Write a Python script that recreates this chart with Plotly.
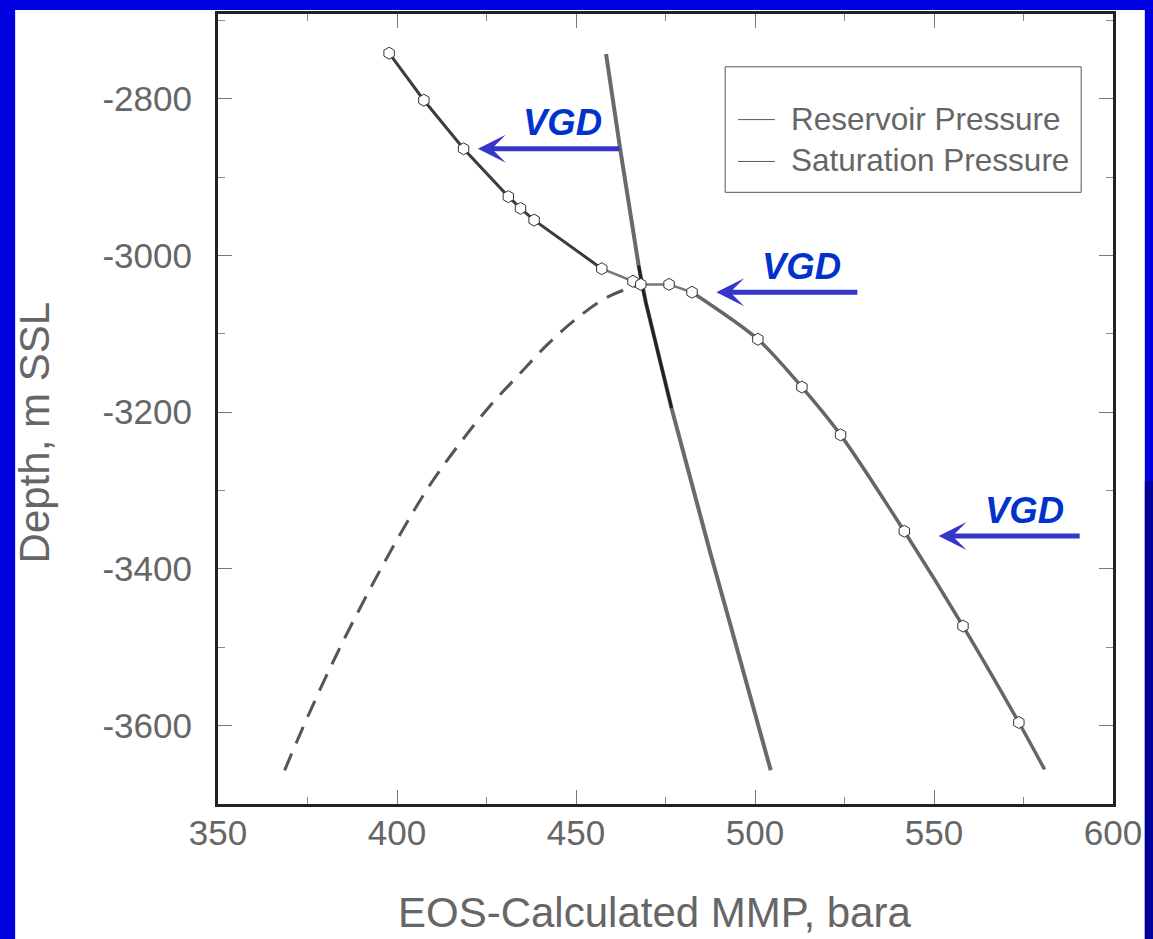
import plotly.graph_objects as go

# ---------------- data ----------------
# EOS-calculated MMP profile (line with hexagon markers)
mmp_x = [397.8, 407.5, 418.6, 431.1, 434.5, 438.3, 457.2, 465.9, 468.1, 476.0,
         482.4, 500.8, 513.1, 523.9, 541.7, 558.1, 573.7, 580.9]
mmp_depth = [-2742, -2802, -2864, -2925, -2940, -2955, -3017, -3033, -3037, -3037,
             -3047, -3107, -3168, -3229, -3352, -3473, -3596, -3656]
n_markers = 17  # last point is the line end without marker

# Reservoir pressure (steep line)
res_x = [458.4, 462.3, 467.5, 468.4, 469.5, 476.7, 482.3, 487.6, 493.1, 498.7, 504.4]
res_depth = [-2743, -2863, -3013, -3037, -3060, -3195, -3291, -3381, -3471, -3564, -3657]

# Saturation pressure (dashed)
sat_x = [368.6, 375.6, 383.9, 392.2, 400.6, 408.9, 417.2, 425.6, 433.9, 442.2,
         450.6, 458.9, 467.2]
sat_depth = [-3657, -3583, -3502, -3428, -3358, -3295, -3242, -3194, -3153, -3113,
             -3079, -3053, -3038]

# VGD arrows
vgd_tip_x = [422.6, 489.2, 551.3]
vgd_tail_x = [462.6, 529.0, 591.1]
vgd_depth = [-2864, -3047, -3358]
vgd_label_x = [446.2, 513.0, 575.2]
vgd_label_y = [-2830, -3014, -3326]

x_ticks = [350, 400, 450, 500, 550, 600]
y_ticks = [-2800, -3000, -3200, -3400, -3600]
y_ticklabels = ["-2800", "-3000", "-3200", "-3400", "-3600"]

legend_names = ["Reservoir Pressure", "Saturation Pressure"]

# ---------------- figure ----------------
W, H = 1153, 939
ML, MR, MT, MB = 218, 35, 11, 135
PW, PH = W - ML - MR, H - MT - MB


def px(xp):
    return (xp - ML) / PW


def py(yp):
    return 1 - (yp - MT) / PH


FONT = "Arial, Liberation Sans, Helvetica, sans-serif"
GRAY = "#666666"

fig = go.Figure()

# dashed saturation curve
fig.add_trace(go.Scatter(x=sat_x, y=sat_depth, mode="lines",
                         line=dict(color="#555555", width=3, dash="18px,11px",
                                   shape="spline", smoothing=1),
                         showlegend=False, hoverinfo="skip"))

# reservoir pressure line
fig.add_trace(go.Scatter(x=res_x, y=res_depth, mode="lines",
                         line=dict(color="#6a6a6a", width=4),
                         showlegend=False, hoverinfo="skip"))
fig.add_trace(go.Scatter(x=res_x[2:6], y=res_depth[2:6], mode="lines",
                         line=dict(color="#222222", width=3),
                         showlegend=False, hoverinfo="skip"))

# MMP line (upper part darker)
fig.add_trace(go.Scatter(x=mmp_x[:7], y=mmp_depth[:7], mode="lines",
                         line=dict(color="#3c3c3c", width=3),
                         showlegend=False, hoverinfo="skip"))
fig.add_trace(go.Scatter(x=mmp_x[6:11], y=mmp_depth[6:11], mode="lines",
                         line=dict(color="#777777", width=2.5),
                         showlegend=False, hoverinfo="skip"))
fig.add_trace(go.Scatter(x=mmp_x[10:], y=mmp_depth[10:], mode="lines",
                         line=dict(color="#666666", width=3.5, shape="spline", smoothing=0.8),
                         showlegend=False, hoverinfo="skip"))
fig.add_trace(go.Scatter(x=mmp_x[:n_markers], y=mmp_depth[:n_markers], mode="markers",
                         marker=dict(symbol="hexagon", size=12, color="white",
                                     line=dict(color="#333333", width=1)),
                         showlegend=False, hoverinfo="skip"))

annotations = []
for tx, ax, yy in zip(vgd_tip_x, vgd_tail_x, vgd_depth):
    annotations.append(dict(x=tx, y=yy, ax=ax, ay=yy, xref="x", yref="y",
                            axref="x", ayref="y", text="", showarrow=True,
                            arrowhead=3, arrowsize=0.93, arrowwidth=5,
                            arrowcolor="#3535c8", standoff=0, startstandoff=0))
for lx, ly in zip(vgd_label_x, vgd_label_y):
    annotations.append(dict(x=lx, y=ly, xref="x", yref="y", text="<b><i>VGD</i></b>",
                            showarrow=False, xanchor="center", yanchor="middle",
                            font=dict(family=FONT, size=36.5, color="#0033cc")))

# axis titles
annotations.append(dict(x=px(657), y=py(913), xref="paper", yref="paper",
                        text="EOS-Calculated MMP, bara", showarrow=False,
                        xanchor="center", yanchor="middle",
                        font=dict(family=FONT, size=42, color=GRAY)))
annotations.append(dict(x=px(33), y=py(432), xref="paper", yref="paper",
                        text="Depth, m SSL", showarrow=False, textangle=-90,
                        xanchor="center", yanchor="middle",
                        font=dict(family=FONT, size=42, color=GRAY)))

# legend (drawn)
shapes = []
leg_y = [117, 159]
for name, yy in zip(legend_names, leg_y):
    shapes.append(dict(type="line", xref="paper", yref="paper",
                       x0=px(741), x1=px(778), y0=py(yy), y1=py(yy),
                       line=dict(color="#555555", width=1)))
    annotations.append(dict(x=px(792), y=py(yy - 1), xref="paper", yref="paper",
                            text=name, showarrow=False, xanchor="left", yanchor="middle",
                            font=dict(family=FONT, size=31.5, color=GRAY)))
shapes.append(dict(type="rect", xref="paper", yref="paper",
                   x0=px(728), x1=px(1086), y0=py(190), y1=py(64),
                   line=dict(color="#555555", width=1), fillcolor="rgba(0,0,0,0)"))

# slide background: white panel over blue, darker blue at the lower right edge
shapes.insert(0, dict(type="rect", xref="paper", yref="paper", layer="below",
                      x0=px(14), x1=px(1150), y0=py(H + 20), y1=py(7),
                      line=dict(width=0), fillcolor="white"))
shapes.insert(1, dict(type="rect", xref="paper", yref="paper", layer="below",
                      x0=px(1150), x1=px(1160), y0=py(H + 20), y1=py(480),
                      line=dict(width=0), fillcolor="#00009a"))

fig.update_layout(
    width=W, height=H,
    autosize=False,
    margin=dict(l=ML, r=MR, t=MT, b=MB),
    paper_bgcolor="#0000e0",
    plot_bgcolor="white",
    showlegend=False,
    annotations=annotations,
    shapes=shapes,
    font=dict(family=FONT, color=GRAY),
)

fig.update_xaxes(range=[350, 600], tickmode="array", tickvals=x_ticks,
                 ticks="inside", ticklen=14, tickwidth=1, tickcolor="#777777",
                 minor=dict(tickmode="array", tickvals=[375, 425, 475, 525, 575],
                            ticks="inside", ticklen=7, tickcolor="#888888"),
                 showline=True, linecolor="#222222", linewidth=3, mirror="ticks",
                 showgrid=False, zeroline=False, ticklabelstandoff=-4,
                 tickfont=dict(family=FONT, size=35, color=GRAY))
fig.update_yaxes(range=[-3700, -2692], tickmode="array", tickvals=y_ticks,
                 ticktext=y_ticklabels,
                 ticks="inside", ticklen=14, tickwidth=1, tickcolor="#777777",
                 minor=dict(tickmode="array", tickvals=[-2700, -2900, -3100, -3300, -3500, -3700],
                            ticks="inside", ticklen=7, tickcolor="#888888"),
                 showline=True, linecolor="#222222", linewidth=3, mirror="ticks",
                 showgrid=False, zeroline=False, ticklabelstandoff=16,
                 tickfont=dict(family=FONT, size=35, color=GRAY))

fig.write_html(
    "out.html",
    config={"responsive": False},
    post_script="document.documentElement.style.overflow='hidden';"
                "document.body.style.overflow='hidden';document.body.style.margin='0';",
)
